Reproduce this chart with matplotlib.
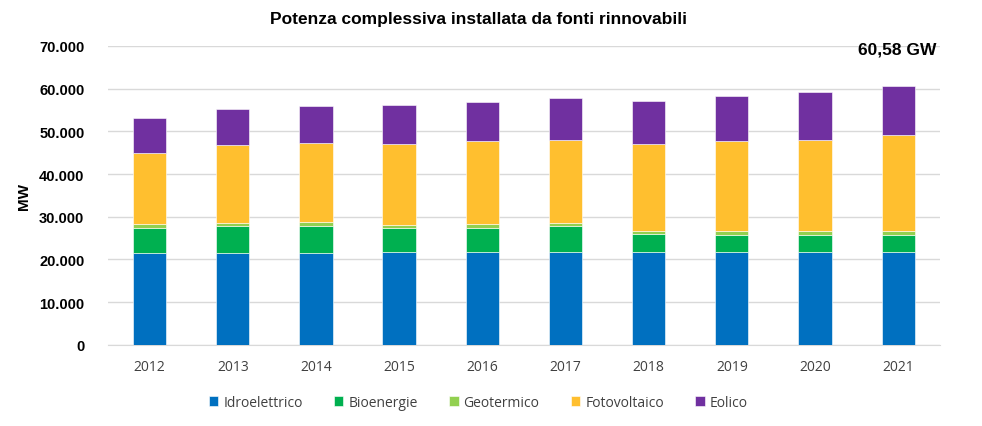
import matplotlib.pyplot as plt
import numpy as np
from matplotlib.ticker import FuncFormatter

# dati (MW)
anni = ["2012", "2013", "2014", "2015", "2016", "2017", "2018", "2019", "2020", "2021"]
idro = [21400, 21400, 21400, 21800, 21800, 21800, 21800, 21800, 21800, 21800]
bio = [6060, 6440, 6440, 5570, 5570, 5960, 4260, 3860, 3860, 3860]
geo = [900, 700, 950, 750, 950, 750, 650, 950, 950, 950]
foto = [16670, 18260, 18570, 18930, 19430, 19550, 20340, 21140, 21450, 22460]
eolico = [8090, 8470, 8480, 9180, 9110, 9730, 10110, 10420, 11130, 11510]

serie = [("Idroelettrico", idro, "#0070C0"),
         ("Bioenergie", bio, "#00B050"),
         ("Geotermico", geo, "#92D050"),
         ("Fotovoltaico", foto, "#FFBF2F"),
         ("Eolico", eolico, "#7030A0")]

plt.rcParams['font.family'] = ['Liberation Sans', 'DejaVu Sans']

fig = plt.figure(figsize=(9.82, 4.27), dpi=100)
ax = fig.add_axes([0.110, 0.190, 0.847, 0.700])

x = np.arange(len(anni))
base = np.zeros(len(anni))
for nome, vals, col in serie:
    ax.bar(x, vals, 0.4, bottom=base, color=col, label=nome,
           edgecolor="#ffffff", linewidth=0.4, zorder=3)
    base = base + np.array(vals)

ax.set_xlim(-0.5, len(anni) - 0.5)
ax.set_ylim(0, 70000)
ax.set_yticks(range(0, 70001, 10000))
ax.yaxis.set_major_formatter(FuncFormatter(lambda v, p: f"{int(v):,}".replace(",", ".")))
ax.grid(axis="y", color="#d9d9d9", linewidth=1, zorder=0)
for s in ["top", "right", "left"]:
    ax.spines[s].set_visible(False)
ax.spines["bottom"].set_color("#d9d9d9")
ax.tick_params(axis="y", length=0, pad=17, labelsize=10.5)
ax.tick_params(axis="x", length=0, pad=10, labelsize=10, labelcolor="#404040")
for t in ax.get_yticklabels():
    t.set_fontweight("bold")
ax.set_xticks(x)
ax.set_xticklabels(anni, family="Open Sans")

ax.set_ylabel("MW", fontsize=11, fontweight="bold", labelpad=6)
fig.text(0.487, 0.955, "Potenza complessiva installata da fonti rinnovabili",
         ha="center", va="center", fontsize=12.5, fontweight="bold")
fig.text(0.954, 0.883, "60,58 GW", ha="right", va="center", fontsize=12.5, fontweight="bold")

leg = ax.legend(loc="center", bbox_to_anchor=(0.445, -0.193), ncol=5, frameon=False,
                handlelength=0.7, handleheight=0.7, handletextpad=0.35, columnspacing=2.25,
                prop={"family": "Open Sans", "size": 10})
for t in leg.get_texts():
    t.set_color("#404040")

fig.savefig("out.png", dpi=100)
